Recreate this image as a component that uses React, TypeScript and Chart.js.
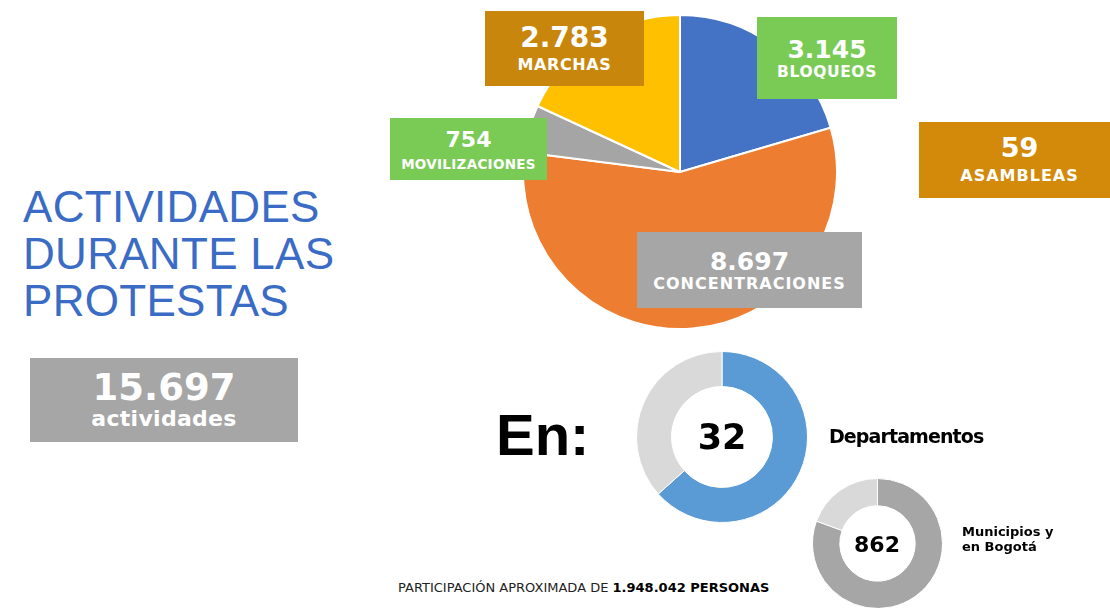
import React, { useEffect, useRef } from "react";
import { Chart, registerables } from "chart.js";

Chart.register(...registerables);

// ---- data ----
const activityCategories = ["BLOQUEOS", "CONCENTRACIONES", "MOVILIZACIONES", "MARCHAS"];
const activityValues = [3145, 8697, 754, 2783];
const activityColors = ["#4472c4", "#ed7d31", "#a5a5a5", "#ffc000"];
const asambleasLabel = "ASAMBLEAS";
const asambleasValue = 59;
const totalActivities = 15697;
const totalLabel = "actividades";
const departamentosValue = 32;
const departamentosLabel = "Departamentos";
const departamentosRing = [63.4, 36.6];
const municipiosValue = 862;
const municipiosLabel = ["Municipios y", "en Bogotá"];
const municipiosRing = [80.6, 19.4];
const participantes = 1948042;
const titleLines = ["ACTIVIDADES", "DURANTE LAS", "PROTESTAS"];

const fmt = (n: number) => String(n).replace(/\B(?=(\d{3})+(?!\d))/g, ".");

const VERD = '"DejaVu Sans", Verdana, sans-serif';
const ARIAL = '"Liberation Sans", Arial, sans-serif';
const GOLD = "#c9860c";
const GREEN = "#7acb55";
const GREY = "#a6a6a6";

type BoxProps = {
  left: number; top: number; width: number; height: number; bg: string;
  value: string; label: string; valueSize: number; labelSize: number;
  valueY: number; labelY: number; labelSpacing?: number; valueSpacing?: number;
};

function Box(p: BoxProps) {
  const line = (text: string, size: number, cy: number, spacing = 0) => {
    const lh = size * 1.2;
    return (
      <div
        style={{
          position: "absolute", left: 0, width: "100%", top: cy - p.top - lh / 2,
          height: lh, lineHeight: lh + "px", fontSize: size, fontWeight: 700,
          fontFamily: VERD, color: "#fff", textAlign: "center", letterSpacing: spacing,
          whiteSpace: "nowrap",
        }}
      >
        {text}
      </div>
    );
  };
  return (
    <div style={{ position: "absolute", left: p.left, top: p.top, width: p.width, height: p.height, background: p.bg }}>
      {line(p.value, p.valueSize, p.valueY, p.valueSpacing || 0)}
      {line(p.label, p.labelSize, p.labelY, p.labelSpacing || 0)}
    </div>
  );
}

export default function App() {
  const pieRef = useRef<HTMLCanvasElement>(null);
  const d1Ref = useRef<HTMLCanvasElement>(null);
  const d2Ref = useRef<HTMLCanvasElement>(null);

  useEffect(() => {
    const common: any = {
      responsive: false,
      animation: false,
      events: [],
      layout: { padding: 0 },
      plugins: { legend: { display: false }, tooltip: { enabled: false } },
    };
    const charts: Chart[] = [];
    charts.push(
      new Chart(pieRef.current!, {
        type: "pie",
        data: {
          labels: activityCategories,
          datasets: [{ data: activityValues, backgroundColor: activityColors, borderColor: "#ffffff", borderWidth: 2 }],
        },
        options: common,
      })
    );
    charts.push(
      new Chart(d1Ref.current!, {
        type: "doughnut",
        data: {
          labels: ["Departamentos", "Resto"],
          datasets: [{ data: departamentosRing, backgroundColor: ["#5b9bd5", "#d9d9d9"], borderColor: "#ffffff", borderWidth: 1 }],
        },
        options: { ...common, cutout: "59%" },
      })
    );
    charts.push(
      new Chart(d2Ref.current!, {
        type: "doughnut",
        data: {
          labels: ["Municipios", "Resto"],
          datasets: [{ data: municipiosRing, backgroundColor: ["#a6a6a6", "#d9d9d9"], borderColor: "#ffffff", borderWidth: 1 }],
        },
        options: { ...common, cutout: "58%" },
      })
    );
    return () => charts.forEach((c) => c.destroy());
  }, []);

  const [bloq, conc, movi, marc] = activityValues;

  return (
    <div style={{ position: "fixed", left: 0, top: 0, width: 1110, height: 608, overflow: "hidden", background: "#fff" }}>
      <canvas ref={pieRef} width={316} height={316} style={{ position: "absolute", left: 522, top: 14, width: 316, height: 316 }} />
      <canvas ref={d1Ref} width={172} height={172} style={{ position: "absolute", left: 636, top: 351, width: 172, height: 172 }} />
      <canvas ref={d2Ref} width={131} height={131} style={{ position: "absolute", left: 812, top: 478, width: 131, height: 131 }} />

      {/* title */}
      <div style={{ position: "absolute", left: 23, top: 183, fontFamily: ARIAL, fontSize: 44, lineHeight: "47px", letterSpacing: 0.3, color: "#3a6cc6", whiteSpace: "nowrap" }}>
        {titleLines.map((t) => (<div key={t}>{t}</div>))}
      </div>

      <Box left={30} top={358} width={268} height={84} bg={GREY} value={fmt(totalActivities)} label={totalLabel}
        valueSize={37} labelSize={22} valueY={388} labelY={419} labelSpacing={0.3} />

      <Box left={485} top={11} width={159} height={75} bg={GOLD} value={fmt(marc)} label={activityCategories[3]}
        valueSize={28} labelSize={16} valueY={38} labelY={64.5} labelSpacing={0.6} />
      <Box left={757} top={17} width={140} height={82} bg={GREEN} value={fmt(bloq)} label={activityCategories[0]}
        valueSize={25} labelSize={15.5} valueY={49.5} labelY={72.5} labelSpacing={0.6} />
      <Box left={390} top={118} width={157} height={62} bg={GREEN} value={fmt(movi)} label={activityCategories[2]}
        valueSize={22} labelSize={13.5} valueY={140} labelY={164} labelSpacing={0.3} />
      <Box left={919} top={122} width={201} height={76} bg="#d38a0b" value={fmt(asambleasValue)} label={asambleasLabel}
        valueSize={27} labelSize={16} valueY={148} labelY={176} labelSpacing={1} />
      <Box left={637} top={232} width={225} height={76} bg={GREY} value={fmt(conc)} label={activityCategories[1]}
        valueSize={25} labelSize={16} valueY={261.5} labelY={284} labelSpacing={1} />

      {/* En: */}
      <div style={{ position: "absolute", left: 496, top: 400, fontFamily: ARIAL, fontWeight: 700, fontSize: 58, lineHeight: "69.6px", color: "#000" }}>En:</div>

      {/* doughnut 1 centre */}
      <div style={{ position: "absolute", left: 662, width: 120, top: 417, height: 40, lineHeight: "40px", textAlign: "center", fontFamily: VERD, fontWeight: 700, fontSize: 35, color: "#000" }}>{departamentosValue}</div>
      <div style={{ position: "absolute", left: 829, top: 424, lineHeight: "24px", fontFamily: VERD, fontWeight: 700, fontSize: 19, letterSpacing: -0.9, color: "#000", whiteSpace: "nowrap" }}>{departamentosLabel}</div>

      {/* doughnut 2 centre */}
      <div style={{ position: "absolute", left: 827, width: 100, top: 532, height: 26, lineHeight: "26px", textAlign: "center", fontFamily: VERD, fontWeight: 700, fontSize: 22, color: "#000" }}>{municipiosValue}</div>
      <div style={{ position: "absolute", left: 962, top: 524, lineHeight: "15px", fontFamily: VERD, fontWeight: 700, fontSize: 13, color: "#000", whiteSpace: "nowrap" }}>
        {municipiosLabel.map((t) => (<div key={t}>{t}</div>))}
      </div>

      {/* footer */}
      <div style={{ position: "absolute", left: 398, top: 580, lineHeight: "16px", fontFamily: VERD, fontSize: 13, color: "#222", whiteSpace: "nowrap" }}>
        PARTICIPACIÓN APROXIMADA DE <b style={{ color: "#000" }}>{fmt(participantes)} PERSONAS</b>
      </div>
    </div>
  );
}
